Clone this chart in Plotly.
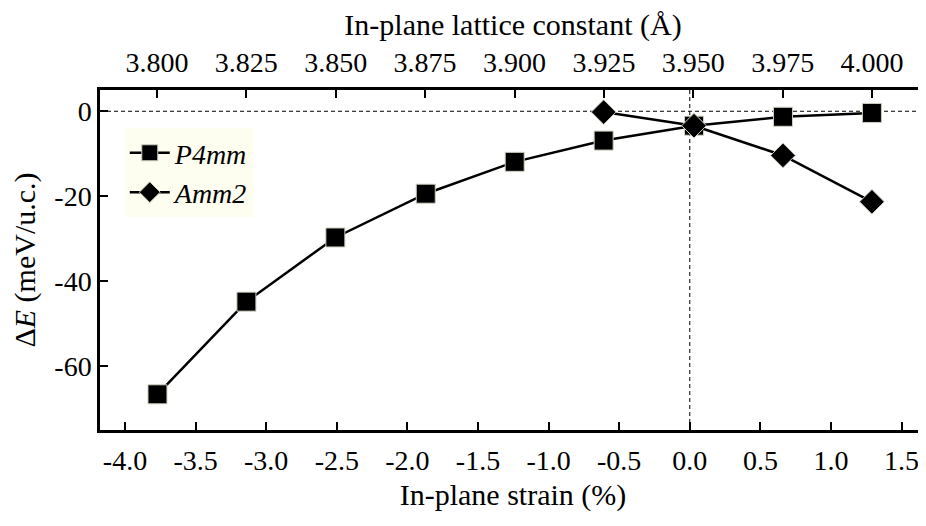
import plotly.graph_objects as go

# lattice constants (top axis) and the matching in-plane strain (%)
lattice_p4mm = [3.800, 3.825, 3.850, 3.875, 3.900, 3.925, 3.950, 3.975, 4.000]
strain_p4mm = [-3.77, -3.14, -2.51, -1.87, -1.24, -0.61, 0.03, 0.66, 1.29]
dE_p4mm = [-66.6, -44.8, -29.7, -19.4, -11.9, -6.9, -3.4, -1.3, -0.4]

strain_amm2 = [-0.61, 0.03, 0.66, 1.29]
dE_amm2 = [-0.2, -3.4, -10.4, -21.3]

# tick labels
strain_ticks = [-4.0, -3.5, -3.0, -2.5, -2.0, -1.5, -1.0, -0.5, 0.0, 0.5, 1.0, 1.5]
strain_ticktext = ["-4.0", "-3.5", "-3.0", "-2.5", "-2.0", "-1.5", "-1.0", "-0.5",
                   "0.0", "0.5", "1.0", "1.5"]
lattice_ticks = [3.800, 3.825, 3.850, 3.875, 3.900, 3.925, 3.950, 3.975, 4.000]
lattice_ticktext = ["3.800", "3.825", "3.850", "3.875", "3.900", "3.925", "3.950",
                    "3.975", "4.000"]
dE_ticks = [0, -20, -40, -60]
dE_ticktext = ["0", "-20", "-40", "-60"]

FONT = "Liberation Serif"
outline = dict(color="#cfcfc0", width=1)

fig = go.Figure()

fig.add_trace(go.Scatter(x=strain_p4mm, y=dE_p4mm, mode="lines+markers",
                         name="<i>P4mm</i>",
                         line=dict(color="black", width=2.5),
                         marker=dict(symbol="square", size=19, color="black", line=outline)))

fig.add_trace(go.Scatter(x=strain_amm2, y=dE_amm2, mode="lines+markers",
                         name="<i>Amm2</i>",
                         line=dict(color="black", width=2.5),
                         marker=dict(symbol="diamond", size=19, color="black", line=outline)))

# invisible trace so the top / right axes get drawn
fig.add_trace(go.Scatter(x=lattice_p4mm, y=dE_p4mm, xaxis="x2", yaxis="y2",
                         mode="markers", marker=dict(opacity=0),
                         showlegend=False, hoverinfo="skip"))

#reference dashed lines
fig.update_layout(shapes=[
    dict(type="line", xref="paper", x0=0, x1=1, yref="y", y0=0, y1=0,
         line=dict(color="black", width=1, dash="4px,3px"), layer="below"),
    dict(type="line", xref="x", x0=0, x1=0, yref="paper", y0=0, y1=1,
         line=dict(color="black", width=1, dash="4px,3px"), layer="below"),
])

tick_style = dict(ticks="inside", ticklen=8, tickwidth=2, tickcolor="black",
                  showgrid=False, zeroline=False, automargin=False)

# page body has an 8px margin, so the figure is 8px smaller and margins shifted
fig.update_layout(
    width=918, height=518,
    margin=dict(l=92, r=0, t=82, b=96),
    plot_bgcolor="white", paper_bgcolor="white",
    font=dict(family=FONT, size=28, color="black"),
    xaxis=dict(range=[-4.177, 1.673], tickvals=strain_ticks, ticktext=strain_ticktext,
               showline=True, linewidth=2.5, linecolor="black",
               ticklabelstandoff=4,
               title=dict(text="In-plane strain (%)", font=dict(size=30), standoff=9),
               **tick_style),
    xaxis2=dict(overlaying="x", side="top", anchor="y",
                range=[3.78406, 4.01510], tickvals=lattice_ticks, ticktext=lattice_ticktext,
                showline=True, linewidth=2.5, linecolor="black",
                ticklabelstandoff=4,
                title=dict(text="In-plane lattice constant (Å)", font=dict(size=30), standoff=10),
                **tick_style),
    yaxis=dict(range=[-75, 5], tickvals=dE_ticks, ticktext=dE_ticktext,
               showline=True, linewidth=2.5, linecolor="black",
               title=dict(text="Δ<i>E</i> (meV/u.c.)", font=dict(size=30), standoff=14),
               **tick_style),
    yaxis2=dict(overlaying="y", side="right", anchor="x2",
                range=[-75, 5], tickvals=dE_ticks,
                showticklabels=False, showline=False,
                **tick_style),
    legend=dict(x=0.03, y=0.888, xanchor="left", yanchor="top",
                bgcolor="#fdfdf0", font=dict(family=FONT, size=28),
                tracegroupgap=0, itemwidth=40),
    showlegend=True,
)

fig.write_html("out.html")
